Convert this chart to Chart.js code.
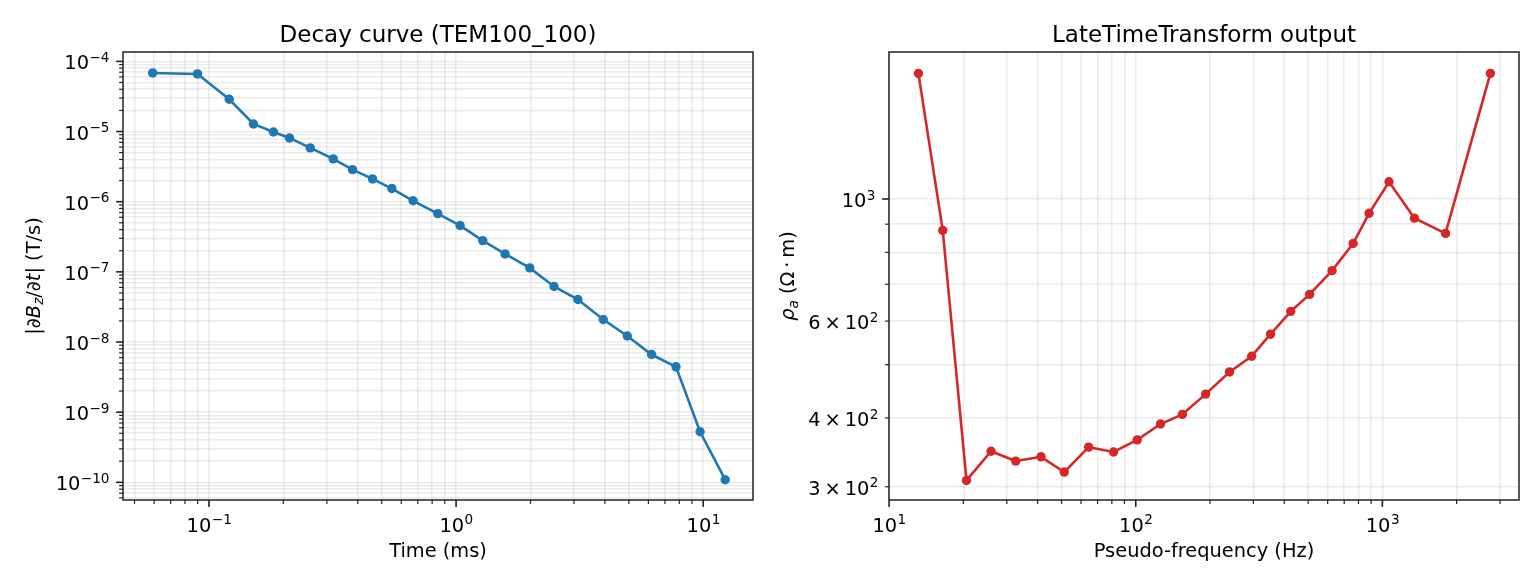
<!DOCTYPE html>
<html>
<head>
<meta charset="utf-8">
<script src="https://cdn.jsdelivr.net/npm/chart.js@4.4.0/dist/chart.umd.min.js"></script>
<style>
  html, body { margin: 0; padding: 0; background: #fff; }
  #wrap { position: relative; width: 1540px; height: 588px; overflow: hidden; }
  canvas { position: absolute; top: 0; }
</style>
</head>
<body>
<div id="wrap">
  <canvas id="decay" width="770" height="588" style="left:0"></canvas>
  <canvas id="ltt" width="770" height="588" style="left:770px"></canvas>
</div>
<script>
// left panel: decay curve
var decayTime = [0.0592, 0.0899, 0.1208, 0.1514, 0.1824, 0.2118, 0.257, 0.3184, 0.381, 0.459,
                 0.5497, 0.67, 0.843, 1.038, 1.282, 1.578, 1.986, 2.49, 3.11, 3.94,
                 4.93, 6.18, 7.76, 9.71, 12.27];
var decayDbdt = [6.84e-5, 6.62e-5, 2.88e-5, 1.28e-5, 9.86e-6, 8.1e-6, 5.84e-6, 4.07e-6, 2.86e-6, 2.11e-6,
                 1.54e-6, 1.03e-6, 6.76e-7, 4.57e-7, 2.79e-7, 1.80e-7, 1.14e-7, 6.18e-8, 4.03e-8, 2.09e-8,
                 1.22e-8, 6.63e-9, 4.43e-9, 5.26e-10, 1.09e-10];

// right panel: late time transform
var pseudoFreq = [13.15, 16.5, 20.6, 25.9, 32.6, 41.3, 51.3, 64.4, 81.3, 101.4,
                  126, 154.5, 192, 240, 295, 352, 425, 507, 625, 761,
                  883, 1064, 1349, 1803, 2741];
var rhoA = [1692, 877, 308, 348, 334, 340, 319, 354, 347, 365,
            390, 406, 442, 485, 518, 568, 625, 671, 741, 830,
            942, 1075, 923, 866, 1692];

// labelled ticks ("mantissa^exponent")
var decayXTicks = [0.1, 1, 10];
var decayXLabels = ['10^\u22121', '10^0', '10^1'];
var decayYTicks = [1e-10, 1e-9, 1e-8, 1e-7, 1e-6, 1e-5, 1e-4];
var decayYLabels = ['10^\u221210', '10^\u22129', '10^\u22128', '10^\u22127', '10^\u22126', '10^\u22125', '10^\u22124'];
var lttXTicks = [10, 100, 1000];
var lttXLabels = ['10^1', '10^2', '10^3'];
var lttYTicks = [300, 400, 600, 1000];
var lttYLabels = ['3\u2009\u00D7\u200910^2', '4\u2009\u00D7\u200910^2', '6\u2009\u00D7\u200910^2', '10^3'];

Chart.defaults.font.family = "'DejaVu Sans', sans-serif";
Chart.defaults.color = '#000';

var FONT = "'DejaVu Sans'";
var LABEL_SIZE = 19.4;
var gridColor = 'rgba(176,176,176,0.26)';
var spineColor = '#222';

function logTicks(min, max) {
  var out = [];
  for (var e = Math.floor(Math.log10(min)); e <= Math.ceil(Math.log10(max)); e++) {
    for (var m = 1; m <= 9; m++) {
      var v = m * Math.pow(10, e);
      if (v >= min * 0.9999 && v <= max) out.push({ value: v, major: m === 1 });
    }
  }
  return out;
}

function findLabel(v, values, labels) {
  for (var i = 0; i < values.length; i++) {
    if (Math.abs(v / values[i] - 1) < 1e-6) return labels[i];
  }
  return null;
}

// draws "mant^exp" with a raised, smaller exponent
function drawSci(ctx, label, x, baseline, align) {
  var p = label.split('^');
  var big = LABEL_SIZE + 'px ' + FONT, small = (LABEL_SIZE * 0.7) + 'px ' + FONT;
  ctx.font = big;
  var w1 = ctx.measureText(p[0]).width;
  ctx.font = small;
  var w2 = p[1] ? ctx.measureText(p[1]).width : 0;
  var start = align === 'center' ? x - (w1 + w2) / 2 : x - (w1 + w2);
  ctx.textAlign = 'left';
  ctx.textBaseline = 'alphabetic';
  ctx.font = big;
  ctx.fillText(p[0], start, baseline);
  if (p[1]) {
    ctx.font = small;
    ctx.fillText(p[1], start + w1 + 0.5, baseline - 7.4);
  }
}

function drawRich(ctx, parts, size) {
  var w = 0;
  parts.forEach(function (p) {
    ctx.font = (p.it ? 'italic ' : '') + (p.sub ? size * 0.7 : size) + 'px ' + FONT;
    p.w = ctx.measureText(p.t).width;
    w += p.w;
  });
  var x = -w / 2;
  parts.forEach(function (p) {
    ctx.font = (p.it ? 'italic ' : '') + (p.sub ? size * 0.7 : size) + 'px ' + FONT;
    ctx.fillText(p.t, x, p.sub ? size * 0.2 : 0);
    x += p.w;
  });
}

var decor = {
  id: 'decor',
  afterDraw: function (chart, args, opts) {
    var ctx = chart.ctx, a = chart.chartArea;
    var xs = chart.scales.x, ys = chart.scales.y;
    ctx.save();
    ctx.strokeStyle = spineColor;
    ctx.fillStyle = '#000';
    // x ticks and labels
    xs.ticks.forEach(function (t) {
      var px = xs.getPixelForValue(t.value);
      ctx.lineWidth = t.major ? 1.6 : 1.2;
      ctx.beginPath(); ctx.moveTo(px, a.bottom); ctx.lineTo(px, a.bottom + (t.major ? 6.9 : 3.9)); ctx.stroke();
      var lab = findLabel(t.value, opts.xTicks, opts.xLabels);
      if (lab) drawSci(ctx, lab, px, a.bottom + 31.5, 'center');
    });
    // y ticks and labels
    ys.ticks.forEach(function (t) {
      var py = ys.getPixelForValue(t.value);
      ctx.lineWidth = t.major ? 1.6 : 1.2;
      ctx.beginPath(); ctx.moveTo(a.left, py); ctx.lineTo(a.left - (t.major ? 6.9 : 3.9), py); ctx.stroke();
      var lab = findLabel(t.value, opts.yTicks, opts.yLabels);
      if (lab) drawSci(ctx, lab, a.left - (t.major ? 14 : 11), py + 8, 'right');
    });
    // frame
    ctx.lineWidth = 1.5;
    ctx.strokeRect(a.left, a.top, a.right - a.left, a.bottom - a.top);
    // title
    ctx.textAlign = 'center';
    ctx.textBaseline = 'alphabetic';
    ctx.font = '23px ' + FONT;
    ctx.fillText(opts.title, (a.left + a.right) / 2, 41.7);
    // y axis title
    ctx.translate(opts.yTitleX, (a.top + a.bottom) / 2);
    ctx.rotate(-Math.PI / 2);
    ctx.textAlign = 'left';
    drawRich(ctx, opts.yTitle, LABEL_SIZE);
    ctx.restore();
  }
};

function makeChart(id, xs, ys, color, lim, xTick, yTick, yWidth, rightPad, xTitle, title, yTitle, yTitleX) {
  return new Chart(document.getElementById(id), {
    type: 'line',
    data: {
      datasets: [{
        data: xs.map(function (x, i) { return { x: x, y: ys[i] }; }),
        borderColor: color,
        backgroundColor: color,
        borderWidth: 2.6,
        pointRadius: 4.7,
        pointHoverRadius: 4.7,
        pointBorderWidth: 0,
        tension: 0
      }]
    },
    options: {
      responsive: false,
      animation: false,
      devicePixelRatio: 1,
      layout: { padding: { top: 52, right: rightPad, left: 0, bottom: 0 } },
      plugins: {
        legend: { display: false },
        tooltip: { enabled: false },
        decor: {
          title: title, yTitle: yTitle, yTitleX: yTitleX,
          xTicks: xTick[0], xLabels: xTick[1], yTicks: yTick[0], yLabels: yTick[1]
        }
      },
      scales: {
        x: {
          type: 'logarithmic',
          min: lim[0], max: lim[1],
          afterBuildTicks: function (s) { s.ticks = logTicks(lim[0], lim[1]); },
          afterFit: function (s) { s.height = 88; },
          grid: { color: gridColor, lineWidth: 1.6, drawTicks: false },
          border: { display: false },
          ticks: { display: false, autoSkip: false },
          title: { display: true, text: xTitle, font: { size: LABEL_SIZE }, padding: { top: 0, bottom: 24 } }
        },
        y: {
          type: 'logarithmic',
          min: lim[2], max: lim[3],
          afterBuildTicks: function (s) { s.ticks = logTicks(lim[2], lim[3]); },
          afterFit: function (s) { s.width = yWidth; },
          grid: { color: gridColor, lineWidth: 1.6, drawTicks: false },
          border: { display: false },
          ticks: { display: false, autoSkip: false }
        }
      }
    },
    plugins: [decor]
  });
}

makeChart('decay', decayTime, decayDbdt, '#1f77b4',
  [0.0449, 15.9, 5.6e-11, 1.36e-4],
  [decayXTicks, decayXLabels], [decayYTicks, decayYLabels],
  123, 17, 'Time (ms)', 'Decay curve (TEM100_100)',
  [{ t: '|\u2202' }, { t: 'B', it: true }, { t: 'z', it: true, sub: true }, { t: '/\u2202' },
   { t: 't', it: true }, { t: '| (T/s)' }], 39.5);

makeChart('ltt', pseudoFreq, rhoA, '#d62728',
  [9.99, 3580, 283.8, 1850],
  [lttXTicks, lttXLabels], [lttYTicks, lttYLabels],
  119, 21, 'Pseudo-frequency (Hz)', 'LateTimeTransform output',
  [{ t: '\u03C1', it: true }, { t: 'a', it: true, sub: true }, { t: ' (\u03A9\u2009\u00B7\u2009m)' }], 24);
</script>
</body>
</html>
